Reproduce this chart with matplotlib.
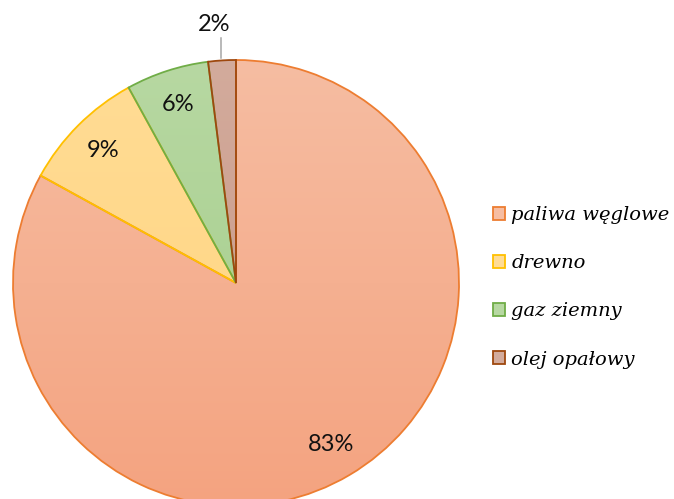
import numpy as np
import matplotlib
matplotlib.use("Agg")
import matplotlib.pyplot as plt
from matplotlib.patches import Patch
from matplotlib.colors import to_rgb

# Heating fuel shares
labels = ["paliwa węglowe", "drewno", "gaz ziemny", "olej opałowy"]
shares = [83, 9, 6, 2]

# gradient fills (top, bottom) and outline colours
fill_top = ["#F6BDA2", "#FFDC95", "#B7D8A2", "#D3AB9C"]
fill_bottom = ["#F4A380", "#FFD47E", "#A3CC88", "#C69584"]
edges = ["#ED7D31", "#FFC000", "#70AD47", "#9E480E"]

W, H = 674, 499
fig = plt.figure(figsize=(W / 100, H / 100), dpi=100)
ax = fig.add_axes([0, 0, 1, 1])

cx, cy, r = 236, H - 283, 223

wedges, texts, autotexts = ax.pie(
    shares, startangle=90, counterclock=False, center=(cx, cy), radius=r,
    autopct="%1.0f%%", pctdistance=0.84, frame=True,
    wedgeprops=dict(facecolor="none", linewidth=1.3, zorder=3),
    textprops=dict(fontsize=17, family="Lato", color="#111111"),
)

# vertical gradient inside each wedge
n = 256
t = np.linspace(0, 1, n)[:, None]
for w, top, bot, ec in zip(wedges, fill_top, fill_bottom, edges):
    w.set_edgecolor(ec)
    c0, c1 = np.array(to_rgb(top)), np.array(to_rgb(bot))
    grad = (c0 * (1 - t) + c1 * t)[:, None, :].repeat(2, axis=1)
    im = ax.imshow(grad, extent=(cx - r, cx + r, cy - r, cy + r),
                   origin="upper", aspect="auto", zorder=2)
    im.set_clip_path(w)

for t_ in autotexts:
    t_.set_zorder(5)

# small slice: label sits outside with a leader line
small = autotexts[-1]
w = wedges[-1]
ang = np.deg2rad((w.theta1 + w.theta2) / 2)
small.set_position((cx + 1.16 * r * np.cos(ang) - 6, cy + 1.16 * r))
small.set_va("center")
lx_line = cx + 1.07 * r * np.cos(ang)
ax.plot([lx_line, lx_line], [cy + 1.009 * r, cy + 1.099 * r],
        color="#A6A6A6", linewidth=1.1, zorder=4)

ax.set_xlim(0, W)
ax.set_ylim(0, H)
ax.set_aspect("equal")
ax.axis("off")

handles = [Patch(facecolor=bot, edgecolor=ec, linewidth=1.3)
           for bot, ec in zip(fill_top, edges)]
fig.legend(handles, labels, loc="center left",
           bbox_to_anchor=(0.705, 0.424), frameon=False,
           prop=dict(family="DejaVu Serif", style="italic", size=14),
           handlelength=0.65, handleheight=0.65, handletextpad=0.3,
           labelspacing=1.55)

fig.savefig("out.png", dpi=100)
